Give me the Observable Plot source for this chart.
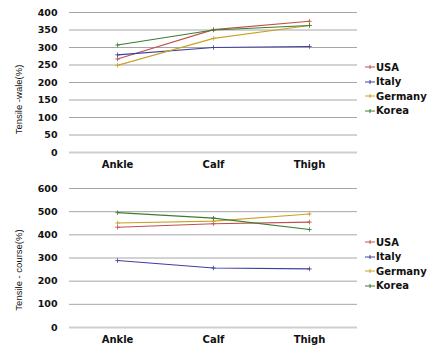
<!DOCTYPE html>
<html>
<head>
<meta charset="utf-8">
<script src="https://cdn.jsdelivr.net/npm/d3@7"></script>
<script src="https://cdn.jsdelivr.net/npm/@observablehq/plot@0.6"></script>
<style>
  html, body { margin: 0; padding: 0; background: #fff; }
  #wrap { position: relative; width: 439px; height: 353px; overflow: hidden; }
  .chart { position: absolute; left: 0; }
  .legend { position: absolute; left: 365px; font: bold 10px "DejaVu Sans", sans-serif; color: #111; }
  .legend div { height: 14.5px; display: flex; align-items: center; }
  .legend svg { margin-right: 1px; }
</style>
</head>
<body>
<div id="wrap"></div>
<script>
const categories = ["Ankle", "Calf", "Thigh"];
const countries = ["USA", "Italy", "Germany", "Korea"];
const colors = ["#c0504d", "#3f3fa0", "#c9a227", "#3b7d2f"];

// Tensile - wale (%)
const waleUSA = [267, 351, 375];
const waleItaly = [279, 300, 303];
const waleGermany = [249, 326, 363];
const waleKorea = [307, 350, 363];

// Tensile - course (%)
const courseUSA = [433, 448, 455];
const courseItaly = [289, 257, 253];
const courseGermany = [451, 459, 490];
const courseKorea = [496, 472, 423];

const waleTicks = [0, 50, 100, 150, 200, 250, 300, 350, 400];
const courseTicks = [0, 100, 200, 300, 400, 500, 600];

function toRows(series) {
  const rows = [];
  series.forEach((vals, i) => vals.forEach((v, j) => rows.push({cat: categories[j], country: countries[i], value: v})));
  return rows;
}

function makeChart(rows, ticks, yMax, label, height, marginBottom, labelDy) {
  return Plot.plot({
    width: 439,
    height,
    marginLeft: 69,
    marginRight: 82,
    marginTop: 12,
    marginBottom,
    style: {fontFamily: "DejaVu Sans, sans-serif", fontWeight: "bold", fontSize: "9.5px", color: "#111"},
    x: {type: "point", domain: categories, padding: 0.5, label: null},
    y: {domain: [0, yMax], ticks, label: null},
    color: {domain: countries, range: colors},
    marks: [
      Plot.ruleY(ticks.filter(t => t > 0), {stroke: "#a6a6a6", strokeWidth: 1}),
      Plot.ruleY([0], {stroke: "#cfcfcf", strokeWidth: 2}),
      Plot.axisX({tickSize: 0, tickPadding: 8, fontSize: 10, fontWeight: "bold", label: null}),
      Plot.axisY({ticks, tickSize: 0, tickPadding: 12, fontWeight: "bold", label: null}),
      Plot.lineY(rows, {x: "cat", y: "value", stroke: "country", strokeWidth: 1.1}),
      Plot.dot(rows, {x: "cat", y: "value", stroke: "country", symbol: "plus", r: 1.6, strokeWidth: 0.8}),
      Plot.text([label], {frameAnchor: "left", textAnchor: "middle", rotate: -90, dx: -51, dy: labelDy, fontFamily: "Liberation Sans Narrow, Liberation Sans, sans-serif", fontWeight: "normal", fontSize: 9.5, fill: "#111"})
    ]
  });
}

const wrap = document.getElementById("wrap");

const top1 = makeChart(toRows([waleUSA, waleItaly, waleGermany, waleKorea]), waleTicks, 400, "Tensile -wale(%)", 176, 24, 17);
top1.classList.add("chart"); top1.style.top = "0px";
wrap.appendChild(top1);

const bot = makeChart(toRows([courseUSA, courseItaly, courseGermany, courseKorea]), courseTicks, 600, "Tensile - course(%)", 177, 26, 12);
bot.classList.add("chart"); bot.style.top = "176px";
wrap.appendChild(bot);

function legend(top) {
  const d = document.createElement("div");
  d.className = "legend";
  d.style.top = top + "px";
  countries.forEach((c, i) => {
    const row = document.createElement("div");
    const ns = "http://www.w3.org/2000/svg";
    const sw = document.createElementNS(ns, "svg");
    sw.setAttribute("width", 10); sw.setAttribute("height", 6);
    const l1 = document.createElementNS(ns, "path");
    l1.setAttribute("d", "M0,3H10M5,1V5");
    l1.setAttribute("stroke", colors[i]);
    l1.setAttribute("stroke-width", 1);
    sw.appendChild(l1);
    row.appendChild(sw);
    row.appendChild(document.createTextNode(c));
    d.appendChild(row);
  });
  wrap.appendChild(d);
}
legend(60);
legend(235);
</script>
</body>
</html>
